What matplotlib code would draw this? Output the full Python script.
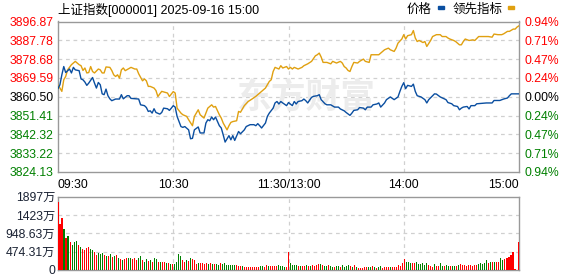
import numpy as np
import matplotlib
matplotlib.use('Agg')
import matplotlib.pyplot as plt
from matplotlib.patches import Rectangle

plt.rcParams['font.family'] = ['Liberation Sans', 'Noto Sans CJK SC']

# ---- data ----
prev_close = 3860.50
y_ticks = [3824.13, 3833.22, 3842.32, 3851.41, 3860.50, 3869.59, 3878.68, 3887.78, 3896.87]
pct_labels = ['0.94%', '0.71%', '0.47%', '0.24%', '0.00%', '0.24%', '0.47%', '0.71%', '0.94%']
time_labels = ['09:30', '10:30', '11:30/13:00', '14:00', '15:00']
time_pos = [0, 60, 120, 180, 240]

price_t = [0, 1, 2, 3, 4, 6, 7, 8, 9, 11, 12, 13, 14, 15, 16, 18, 19, 20, 21, 22, 23, 24, 25, 26, 27,
           28, 30, 32, 33, 34, 36, 37, 38, 42, 43, 45, 46, 47, 48, 49, 50, 51, 53, 54, 55, 57, 58, 59,
           60, 61, 62, 64, 65, 66, 68, 69, 70, 71, 73, 74, 76, 77, 78, 79, 80, 81, 82, 84, 85, 86, 87,
           89, 90, 91, 92, 94, 95, 97, 98, 100, 102, 103, 104, 105, 106, 108, 109, 110, 112, 113, 114,
           115, 116, 117, 119, 120, 122, 123, 124, 125, 127, 128, 129, 130, 132, 133, 135, 136, 137,
           139, 140, 142, 144, 146, 147, 149, 150, 152, 153, 154, 156, 157, 159, 160, 161, 163, 164,
           166, 167, 168, 170, 171, 173, 175, 177, 178, 179, 180, 181, 182, 184, 185, 186, 187, 189,
           191, 192, 193, 195, 196, 197, 199, 201, 202, 203, 205, 206, 208, 209, 210, 211, 213, 214,
           215, 217, 218, 223, 226, 227, 230, 232, 234, 235, 236, 240]
price_v = [3864.5, 3866.3, 3871.1, 3875.1, 3872.2, 3873.9, 3872.0, 3874.7, 3873.5, 3873.1, 3869.1,
           3868.7, 3867.6, 3866.0, 3867.1, 3869.8, 3867.1, 3864.7, 3867.4, 3866.3, 3861.9, 3861.5,
           3864.2, 3861.0, 3859.5, 3858.6, 3859.4, 3859.4, 3861.5, 3859.5, 3861.0, 3861.0, 3859.7,
           3859.4, 3856.6, 3856.2, 3855.3, 3853.4, 3853.7, 3852.6, 3854.7, 3852.9, 3852.1, 3852.9,
           3855.0, 3854.7, 3853.9, 3855.0, 3856.2, 3855.5, 3851.0, 3846.1, 3845.7, 3846.1, 3844.5,
           3840.2, 3840.4, 3844.5, 3845.9, 3843.0, 3843.0, 3847.8, 3849.4, 3848.9, 3850.7, 3849.4,
           3850.7, 3846.5, 3845.4, 3842.1, 3838.6, 3841.7, 3839.7, 3841.7, 3839.4, 3843.7, 3842.6,
           3844.5, 3846.1, 3847.0, 3847.0, 3846.5, 3847.5, 3846.5, 3845.4, 3847.8, 3851.0, 3852.6,
           3855.0, 3857.5, 3858.2, 3857.0, 3858.2, 3857.5, 3856.2, 3857.7, 3856.2, 3858.2, 3857.0,
           3858.2, 3858.6, 3859.4, 3858.6, 3857.5, 3860.2, 3860.7, 3861.0, 3861.5, 3859.1, 3857.1,
           3856.6, 3856.6, 3855.5, 3855.5, 3854.6, 3853.7, 3852.9, 3851.5, 3852.6, 3853.9, 3854.2,
           3855.3, 3855.0, 3854.2, 3855.5, 3855.5, 3856.6, 3857.0, 3857.5, 3855.5, 3857.5, 3859.1,
           3860.4, 3859.1, 3860.4, 3863.1, 3865.5, 3867.3, 3864.4, 3866.0, 3865.5, 3866.6, 3863.1,
           3861.0, 3860.4, 3859.1, 3857.5, 3859.1, 3861.0, 3861.9, 3861.8, 3860.4, 3859.5, 3859.1,
           3857.7, 3857.1, 3856.2, 3855.8, 3854.2, 3855.0, 3855.5, 3855.8, 3854.6, 3856.2, 3856.2,
           3857.1, 3857.5, 3857.5, 3858.7, 3858.7, 3859.4, 3859.9, 3861.0, 3861.9, 3861.9]

lead_t = [0, 1, 2, 3, 4, 5, 7, 8, 9, 11, 12, 13, 14, 15, 16, 17, 18, 19, 21, 22, 23, 24, 25, 27, 28,
          29, 30, 31, 32, 33, 34, 35, 37, 38, 40, 41, 42, 44, 45, 46, 47, 48, 50, 51, 52, 53, 54, 56,
          57, 58, 60, 61, 62, 64, 65, 67, 68, 70, 71, 73, 74, 76, 77, 78, 80, 81, 82, 84, 85, 86, 88,
          89, 90, 91, 93, 94, 95, 96, 97, 99, 101, 103, 104, 106, 108, 110, 111, 112, 113, 115, 116,
          117, 119, 120, 121, 122, 123, 125, 127, 128, 130, 132, 134, 135, 136, 137, 138, 140, 142,
          143, 145, 147, 148, 149, 150, 151, 152, 153, 154, 156, 157, 159, 160, 162, 163, 165, 167,
          168, 170, 172, 173, 175, 176, 177, 179, 180, 181, 182, 184, 185, 186, 187, 188, 190, 191,
          192, 194, 195, 197, 199, 200, 202, 203, 204, 206, 207, 209, 210, 211, 212, 214, 216, 217,
          219, 221, 224, 226, 227, 229, 231, 232, 234, 235, 237, 238, 239, 240]
lead_v = [3866.0, 3864.7, 3863.1, 3868.7, 3870.3, 3873.5, 3876.0, 3876.8, 3877.6, 3876.0, 3875.5,
          3873.2, 3874.4, 3872.0, 3872.2, 3875.1, 3872.7, 3872.0, 3873.9, 3873.5, 3872.0, 3872.0,
          3874.9, 3874.7, 3873.2, 3871.1, 3870.3, 3871.1, 3869.5, 3873.5, 3874.4, 3873.1, 3874.2,
          3874.7, 3873.9, 3873.9, 3871.6, 3868.2, 3869.1, 3868.2, 3865.5, 3865.5, 3864.7, 3863.5,
          3860.6, 3861.9, 3863.1, 3862.6, 3862.3, 3860.6, 3863.0, 3862.3, 3855.0, 3852.6, 3851.8,
          3851.0, 3849.4, 3846.5, 3851.0, 3854.2, 3851.8, 3850.2, 3852.6, 3855.0, 3856.6, 3855.5,
          3855.8, 3851.8, 3850.2, 3847.8, 3844.5, 3846.5, 3848.1, 3848.5, 3848.9, 3853.4, 3853.0,
          3854.6, 3856.2, 3858.2, 3859.4, 3860.7, 3861.5, 3863.1, 3864.7, 3867.9, 3868.7, 3872.7,
          3874.7, 3873.9, 3875.5, 3874.4, 3875.1, 3873.9, 3874.7, 3873.9, 3874.7, 3873.9, 3874.7,
          3875.5, 3876.4, 3877.6, 3880.3, 3880.8, 3881.6, 3879.7, 3877.1, 3877.1, 3876.4, 3877.6,
          3876.8, 3877.6, 3876.8, 3875.1, 3874.4, 3873.2, 3872.7, 3875.1, 3877.1, 3876.8, 3877.6,
          3878.7, 3877.6, 3877.1, 3880.8, 3880.8, 3880.8, 3881.6, 3883.2, 3884.0, 3883.2, 3882.4,
          3884.0, 3886.4, 3888.4, 3890.5, 3888.4, 3890.0, 3890.5, 3892.5, 3888.9, 3887.2, 3887.7,
          3886.7, 3887.2, 3884.8, 3887.7, 3889.6, 3890.5, 3890.5, 3889.6, 3889.6, 3888.9, 3888.4,
          3887.7, 3887.2, 3885.6, 3885.6, 3887.2, 3888.4, 3887.7, 3888.0, 3887.7, 3889.6, 3889.6,
          3889.6, 3889.3, 3890.8, 3890.5, 3890.5, 3890.9, 3892.1, 3892.1, 3893.2, 3893.2, 3894.2,
          3894.8]

# volume in 万; colours: 'r' = up minute, 'g' = down minute (one string per row of values)
vol_am = [1767, 1190, 1353, 1060, 836, 888, 733, 647, 716, 750, 647, 603, 543, 517, 560, 586, 543,
          517, 474, 388, 431, 414, 431, 388, 362, 362, 405, 345, 362, 388, 319, 284, 259, 284, 302,
          319, 302, 284, 302, 259, 302, 362, 259, 216, 284, 233, 259, 216, 319, 284, 216, 198, 216,
          198, 190, 172, 147, 155, 155, 198, 405, 370, 259, 216, 259, 233, 319, 284, 259, 147, 172,
          190, 172, 155, 190, 147, 172, 147, 155, 155, 129, 190, 147, 172, 129, 129, 129, 129, 129,
          129, 103, 103, 103, 86, 86, 86, 86, 86, 86, 86, 86, 103, 112, 69, 129, 103, 103, 103, 112,
          112, 129, 103, 103, 86, 86]
col_am = ('rrrgrgrgggrgrrrrg'
          'grrgggrgrgrgrgrgrr'
          'ggrrrggrggrgrggrgr'
          'rgrgrggggrrgrgrrrg'
          'rrrrgrgrggrggggggg'
          'rrrgrrrrrrrrggrrgrrr'
          'rggggr')
vol_pm = [474, 172, 129, 129, 129, 112, 112, 112, 112, 129, 112, 112, 129, 112, 129, 147, 155, 129,
          112, 112, 129, 112, 86, 86, 103, 103, 86, 129, 86, 103, 129, 103, 86, 129, 69, 60, 60, 60,
          86, 86, 86, 86, 103, 69, 60, 86, 103, 60, 86, 86, 86, 86, 86, 86, 86, 129, 112, 190, 284,
          216, 198, 172, 190, 190, 216, 155, 155, 190, 129, 190, 129, 112, 86, 147, 112, 112, 172,
          112, 112, 129, 112, 112, 112, 112, 112, 129, 155, 129, 129, 112, 129, 129, 112, 129, 129,
          155, 190, 155, 172, 259, 190, 198, 216, 216, 216, 216, 319, 259, 284, 319, 345, 388, 474,
          26, 0, 733]
col_pm = ('rggggrgrrgrgrrrrgr'
          'ggrggrggrggggrgrgrrr'
          'rrggrgrggrrrrgrrrrrrr'
          'gggrrggggggrrrgrrg'
          'grggrggrgrrrrrrrrr'
          'gggggrgrgrrggrrrrr'
          'rrr')

vol_ticks = [0, 474.31, 948.63, 1423, 1897]
vol_labels = ['0', '474.31万', '948.63万', '1423万', '1897万']

RED = '#ff0000'
GREEN = '#008000'
BLUE = '#0a4ea0'
GOLD = '#e0a010'
FRAME = '#999999'
GRID = '#d0d0d0'

fig = plt.figure(figsize=(5.78, 2.76), dpi=100)
W, H = 578.0, 276.0
ax = fig.add_axes([58 / W, 1 - 172 / H, 461 / W, 150.5 / H])
axv = fig.add_axes([58 / W, 1 - 270 / H, 461 / W, 73.3 / H])


def style(a):
    for s in a.spines.values():
        s.set_color(FRAME)
        s.set_linewidth(1.0)
    a.tick_params(length=0)
    a.set_xlim(0, 240)
    for xg in [60, 120, 180]:
        a.axvline(xg, color=GRID, lw=0.9, ls=(0, (3, 3)), zorder=0)


style(ax)
style(axv)

# main chart
ax.set_ylim(y_ticks[0], y_ticks[-1])
for yg in y_ticks[1:-1]:
    ax.axhline(yg, color=GRID, lw=0.9, ls=(0, (3, 3)), zorder=0)

ax.text(0.54, 0.5, '东方财富', transform=ax.transAxes, ha='center', va='center',
        fontsize=25, fontweight='bold', color='#ececec', family=['Noto Sans CJK SC'], zorder=0)

ax.plot(lead_t, lead_v, color=GOLD, lw=1.0, zorder=3)
ax.plot(price_t, price_v, color=BLUE, lw=1.0, zorder=4)

ax.set_yticks(y_ticks)
ax.set_yticklabels(['%.2f' % v for v in y_ticks], fontsize=8.8)
for lab, v in zip(ax.get_yticklabels(), y_ticks):
    lab.set_color(RED if v > prev_close else (GREEN if v < prev_close else 'black'))
ax.tick_params(axis='y', pad=3)

axr = ax.twinx()
axr.set_ylim(y_ticks[0], y_ticks[-1])
axr.set_yticks(y_ticks)
axr.set_yticklabels(pct_labels, fontsize=8.8)
axr.tick_params(length=0, pad=4)
for s in axr.spines.values():
    s.set_visible(False)
for lab, v in zip(axr.get_yticklabels(), y_ticks):
    lab.set_color(RED if v > prev_close else (GREEN if v < prev_close else 'black'))

ax.set_xticks(time_pos)
ax.set_xticklabels(time_labels, fontsize=8.8)
ax.tick_params(axis='x', pad=5)
xl = ax.get_xticklabels()
xl[0].set_ha('left')
xl[-1].set_ha('right')

# volume chart
vx_am = np.linspace(0, 119, len(vol_am))
vx_pm = np.linspace(120, 240, len(vol_pm))
axv.bar(vx_am, vol_am, width=0.55, color=[RED if c == 'r' else GREEN for c in col_am],
        antialiased=False, zorder=3)
axv.bar(vx_pm, vol_pm, width=0.55, color=[RED if c == 'r' else GREEN for c in col_pm],
        antialiased=False, zorder=3)
axv.set_ylim(0, 1897)
for yg in vol_ticks[1:-1]:
    axv.axhline(yg, color=GRID, lw=0.9, ls=(0, (3, 3)), zorder=0)
axv.set_yticks(vol_ticks)
axv.set_yticklabels(vol_labels, fontsize=8.8, color='#1a2233')
axv.tick_params(axis='y', pad=2)
axv.set_xticks([])

# header
fig.text(58 / W, 1 - 10 / H, '上证指数[000001] 2025-09-16 15:00', fontsize=9, va='center', ha='left')
fig.text(407 / W, 1 - 10 / H, '价格', fontsize=9, va='center', ha='left')
fig.text(453 / W, 1 - 10 / H, '领先指标', fontsize=9, va='center', ha='left')
fig.add_artist(Rectangle((438 / W, 1 - 9 / H), 6 / W, 2.5 / H, transform=fig.transFigure, color=BLUE))
fig.add_artist(Rectangle((508 / W, 1 - 9 / H), 6 / W, 2.5 / H, transform=fig.transFigure, color=GOLD))

fig.savefig('out.png', dpi=100)
